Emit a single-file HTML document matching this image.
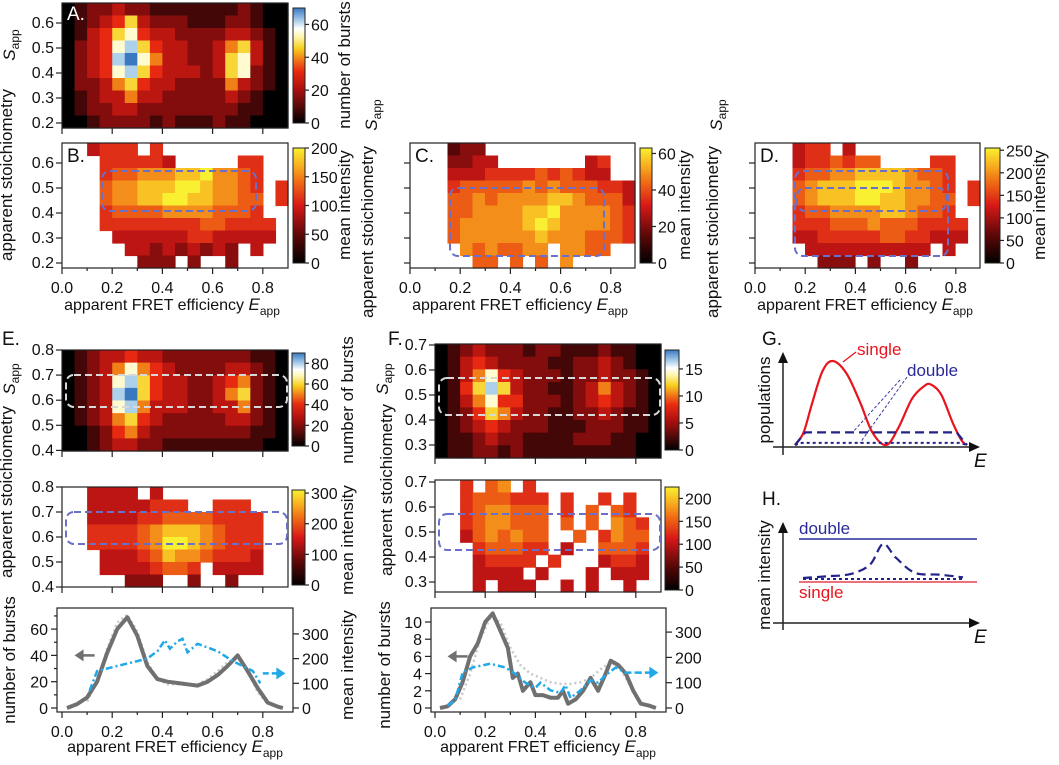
<!DOCTYPE html>
<html><head><meta charset="utf-8"><style>
html,body{margin:0;padding:0;background:#fff;}
svg{display:block;font-family:"Liberation Sans",Arial,sans-serif;}
text{fill:#111;}
</style></head><body>
<svg id="fig" width="1059" height="765" viewBox="0 0 1059 765" xmlns="http://www.w3.org/2000/svg">
<defs>
<linearGradient id="gCount" x1="0" y1="1" x2="0" y2="0">
<stop offset="0" stop-color="#000"/><stop offset="0.15" stop-color="#5a0a0a"/><stop offset="0.3" stop-color="#b01010"/><stop offset="0.45" stop-color="#e82a10"/><stop offset="0.55" stop-color="#f07a18"/><stop offset="0.65" stop-color="#f8d020"/><stop offset="0.75" stop-color="#fff6b0"/><stop offset="0.82" stop-color="#fff"/><stop offset="0.9" stop-color="#a0c8e8"/><stop offset="1" stop-color="#3a78c0"/>
</linearGradient>
<linearGradient id="gInt" x1="0" y1="1" x2="0" y2="0">
<stop offset="0" stop-color="#000"/><stop offset="0.25" stop-color="#600808"/><stop offset="0.5" stop-color="#d81818"/><stop offset="0.7" stop-color="#f06a14"/><stop offset="0.85" stop-color="#f8b020"/><stop offset="1" stop-color="#f8f030"/>
</linearGradient>
</defs>
<g id="layer"></g>
</svg>
<script>
// ---- heatmap data (digit 0-9 = level, '.' = empty) ----
const heatA = ["012232211111112100","012346322211122100","013467433222233210","023478643322356310","023489753322367310","023478643332367210","022356433222253210","012335332222232100","012233222222221100","001222212111211000"];
const heatB = ["..4555.5..........","...555554.....55..","...5667778897765..","...6778889987765.5","...6778899887766.5","...5666677776665..","...55555555665555.","....4444445544444.",".....443434343.4..","......333.3..3...."];
const heatC = ["...233............","...3344.......45..","...4445555656544..","...566666767666554","...667677778876664","...667777889777765","...677777898777765","...677777787776665","....7676677.7766..",".....66.6.6.7....."];
const heatD = ["...455.4..........","...4556566....55..","...5667788887665..","...6788899987765.5","...6788899887766.5","...5667777887665..","...55566676665555.","...44555556655444.","....4444444444.4..",".....333.3..3....."];
const heatEtop = ["012334332222222110","012357543222233210","012378643322345210","012389643322356210","012378533322335210","012356432222233210","001245322222222110","001233221111111100"];
const heatEmid = ["..4444.4..........","..44444555..555...","..44445566665555..","..55556788876555..","..55556799876555..","...4445687765554..","...44445665.4444...",".....333..3..3...."];
const heatFtop = ["012322212211121100","013432222112232100","013574322212232210","014686322112353210","013574422212343210","012465322112232110","012343222111222110","011232211112221100","011221211111111100"];
const heatFmid = ["..5.67.5..........","..5666555.5..5.5..","..5677666.5.6.65..","..5677666.6.6.765.","..4676766..6.5766.","...566655.4..6665.","...45555.5...4554.","...4444.4...4.444.","...4.444..4.4..4.."];
// ---- line chart data ----
const eGrayX = [0.02,0.06,0.1,0.14,0.18,0.22,0.26,0.30,0.34,0.38,0.42,0.46,0.50,0.54,0.58,0.62,0.66,0.70,0.74,0.78,0.82,0.86,0.88];
const eGrayY = [0,3,8,20,42,60,69,55,32,22,20,19,18,17,20,25,32,40,28,15,4,1,0];
const eFitX = [0.1,0.14,0.18,0.22,0.26,0.30,0.34,0.38,0.42,0.46,0.5,0.54,0.58,0.62,0.66,0.7,0.74,0.78,0.82];
const eFitY = [5,20,45,65,71,58,35,22,18,18,18,18,22,28,35,38,28,12,3];
const eBlueX = [0.11,0.14,0.22,0.3,0.34,0.38,0.41,0.43,0.46,0.48,0.5,0.54,0.62,0.68,0.72,0.76,0.79];
const eBlueY = [70,150,170,190,200,230,275,240,270,280,225,260,230,190,170,150,100];
const fGrayX = [0.02,0.05,0.08,0.11,0.14,0.17,0.2,0.23,0.26,0.29,0.31,0.33,0.35,0.38,0.4,0.43,0.46,0.49,0.51,0.53,0.56,0.59,0.62,0.65,0.68,0.7,0.73,0.76,0.79,0.82,0.85,0.88];
const fGrayY = [0,0.2,1,3,6,7.5,10,11,9,7,3.5,4,2,3,1.5,1.5,1.2,1.2,2,0.5,1,2,3.5,2,4,5.5,5,4,2,0.5,0.3,0];
const fFitX = [0.1,0.14,0.18,0.22,0.26,0.3,0.34,0.38,0.42,0.46,0.5,0.54,0.58,0.62,0.66,0.7,0.74,0.78,0.82];
const fFitY = [1,4,8,10.5,10,7,5,4,3.5,3,2.8,2.8,3,3.5,4.5,5.3,4.5,2.5,0.6];
const fBlueX = [0.05,0.08,0.11,0.15,0.22,0.28,0.32,0.36,0.4,0.42,0.46,0.5,0.52,0.54,0.58,0.62,0.65,0.68,0.72,0.76,0.8];
const fBlueY = [10,30,140,160,175,160,135,100,80,100,70,60,90,40,70,110,100,130,160,140,140];
// ---- schematic G data ----
const gX = [0,0.05,0.1,0.16,0.22,0.3,0.38,0.45,0.53,0.6,0.68,0.75,0.79,0.85,0.92,0.97,1];
const gSingle = [0,0.15,0.5,0.88,1,0.85,0.5,0.15,0,0.2,0.55,0.7,0.72,0.6,0.25,0.05,0];
const hX = [0,0.15,0.3,0.42,0.5,0.58,0.7,0.85,1];
const hDouble = [0,0.05,0.12,0.4,1,0.6,0.15,0.1,0.02];

const NS="http://www.w3.org/2000/svg";
const layer=document.getElementById('layer');
function el(tag,attrs,parent){const e=document.createElementNS(NS,tag);for(const k in attrs)e.setAttribute(k,attrs[k]);(parent||layer).appendChild(e);return e;}
function hex(h){return [parseInt(h.substr(1,2),16),parseInt(h.substr(3,2),16),parseInt(h.substr(5,2),16)];}
const CCOUNT=[[0,"#000000"],[0.15,"#5a0a0a"],[0.3,"#b01010"],[0.45,"#e82a10"],[0.55,"#f07a18"],[0.65,"#f8d020"],[0.75,"#fff6b0"],[0.82,"#ffffff"],[0.9,"#a0c8e8"],[1,"#3a78c0"]];
const CINT=[[0,"#000000"],[0.25,"#600808"],[0.5,"#d81818"],[0.7,"#f06a14"],[0.85,"#f8b020"],[1,"#f8f030"]];
function cmap(st,t){for(let i=1;i<st.length;i++){if(t<=st[i][0]){const a=hex(st[i-1][1]),b=hex(st[i][1]);const f=(t-st[i-1][0])/(st[i][0]-st[i-1][0]);return 'rgb('+a.map((v,j)=>Math.round(v+(b[j]-v)*f)).join(',')+')';}}return st[st.length-1][1];}

function heatmap(name,rows,x0,x1,y0,y1,st){
  const g=el('g',{});
  
  
  const nc=rows[0].length,nr=rows.length,cw=(x1-x0)/nc,rh=(y1-y0)/nr;
  rows.forEach((row,r)=>{for(let c=0;c<nc;c++){const ch=row[c];if(ch==='.'||ch===undefined)continue;
    const rc=el('rect',{x:x0+c*cw,y:y0+r*rh,width:cw+0.6,height:rh+0.6,fill:cmap(st,(+ch)/9)},g);
    
    }});
}
function box(name,x0,y0,x1,y1){const r=el('rect',{x:x0,y:y0,width:x1-x0,height:y1-y0,fill:'none',stroke:'#222','stroke-width':1.2});
  
  }
function txt(s,x,y,opt){const t=el('text',Object.assign({x:x,y:y,'font-size':15},opt||{}));t.textContent=s;
  
  return t;}
function line(x1,y1,x2,y2,o){return el('line',Object.assign({x1,y1,x2,y2,stroke:'#222','stroke-width':1.2},o||{}));}
function xTicks(x0,y,labels){[0,0.2,0.4,0.6,0.8].forEach(v=>{const x=x0+v*251;line(x,y,x,y+6);if(labels)txt(v.toFixed(1),x,y+25,{'text-anchor':'middle','font-size':16,dn:'x-tick-label'});});
  if(labels){[0.1,0.3,0.5,0.7].forEach(v=>{const x=x0+v*251;line(x,y,x,y+3);});}}
function yTicks(x,yTop,sTop,per,vals,labels){vals.forEach(v=>{const y=yTop+(sTop-v)*per;line(x-6,y,x,y);if(labels)txt(v.toFixed(1),x-8,y+5,{'text-anchor':'end','font-size':16,dn:'y-tick-label'});});}
function colorbar(name,x0,y0,x1,y1,grad,max,ticks){const r=el('rect',{x:x0,y:y0,width:x1-x0,height:y1-y0,fill:'url(#'+grad+')',stroke:'#222','stroke-width':1});
  
  
  ticks.forEach(v=>{const y=y1-(v/max)*(y1-y0);line(x1,y,x1+4,y);txt(String(v),x1+6,y+6,{'font-size':16,dn:'colorbar-tick'});});}
function rtext(s,x,y,size,name){const t=el('text',{x:0,y:0,'font-size':size||16,'text-anchor':'middle',transform:'translate('+x+','+y+') rotate(-90)'});t.textContent=s;
  
  return t;}
function sapp(x,y,name){const t=el('text',{x:0,y:0,'font-size':17,'text-anchor':'middle',transform:'translate('+x+','+y+') rotate(-90)'});
  
  
  const a=el('tspan',{'font-style':'italic'},t);a.textContent='S';const b=el('tspan',{'font-size':12,dy:4},t);b.textContent='app';}
function xtitle(cx,y){const t=el('text',{x:cx,y:y,'font-size':16,'text-anchor':'middle'});
  
  
  const a=el('tspan',{},t);a.textContent='apparent FRET efficiency  ';const b=el('tspan',{'font-style':'italic','font-size':17},t);b.textContent='E';const c=el('tspan',{'font-size':12,dy:5},t);c.textContent='app';}
function drect(name,x0,y0,x1,y1,col){const r=el('rect',{x:x0,y:y0,width:x1-x0,height:y1-y0,rx:8,fill:'none',stroke:col,'stroke-width':2,'stroke-dasharray':'7,4'});
  
  }
function path(name,xs,ys,fx,fy,o){const d=xs.map((v,i)=>(i?'L':'M')+fx(v).toFixed(1)+','+fy(ys[i]).toFixed(1)).join('');
  const p=el('path',Object.assign({d:d,fill:'none'},o));
  
  return p;}
function smooth(name,xs,ys,fx,fy,o){const P=xs.map((v,i)=>[fx(v),fy(ys[i])]);let d='M'+P[0][0]+','+P[0][1];
  for(let i=0;i<P.length-1;i++){const p0=P[Math.max(0,i-1)],p1=P[i],p2=P[i+1],p3=P[Math.min(P.length-1,i+2)];
    d+='C'+(p1[0]+(p2[0]-p0[0])/6)+','+(p1[1]+(p2[1]-p0[1])/6)+' '+(p2[0]-(p3[0]-p1[0])/6)+','+(p2[1]-(p3[1]-p1[1])/6)+' '+p2[0]+','+p2[1];}
  const p=el('path',Object.assign({d:d,fill:'none'},o));
  
  return p;}

// ===== Panel A =====
heatmap('heatmap-a',heatA,62,288,3,128,CCOUNT);
box('plot-a',62,3,288,128);
yTicks(62,3,0.68,250,[0.2,0.3,0.4,0.5,0.6],true);
xTicks(62,128,false);
colorbar('colorbar-a',293,8,305,123,'gCount',70,[0,20,40,60]);
rtext('number of bursts',350,65,17,'colorbar-a-title');
txt('A.',67,20,{'font-size':19,fill:'#fff',style:'fill:#fff',dn:'panel-label-a'});
sapp(15,45,'s-app-label-ab');
rtext('apparent stoichiometry',12,175,17,'y-axis-title-ab');
// ===== Panel B =====
heatmap('heatmap-b',heatB,62,288,143,268,CINT);
box('plot-b',62,143,288,268);
yTicks(62,143,0.68,250,[0.2,0.3,0.4,0.5,0.6],true);
xTicks(62,268,true);
colorbar('colorbar-b',293,148,305,263,'gInt',200,[0,50,100,150,200]);
rtext('mean intensity',350,205,17,'colorbar-b-title');
drect('selection-b',102,171,256,211,'#6a70c8');
txt('B.',67,162,{'font-size':19,dn:'panel-label-b'});
xtitle(172,310);
// ===== Panel C =====
heatmap('heatmap-c',heatC,410,635,143,268,CINT);
box('plot-c',410,143,635,268);
yTicks(410,143,0.68,250,[0.2,0.3,0.4,0.5,0.6],false);
xTicks(410,268,true);
colorbar('colorbar-c',640,148,652,263,'gInt',63,[0,20,40,60]);
rtext('mean intensity',690,205,17,'colorbar-c-title');
drect('selection-c',450,188,604,256,'#6a70c8');
txt('C.',415,162,{'font-size':19,dn:'panel-label-c'});
sapp(377,115,'s-app-label-c');
rtext('apparent stoichiometry',373,232,17,'y-axis-title-c');
xtitle(520,310);
// ===== Panel D =====
heatmap('heatmap-d',heatD,755,980,143,268,CINT);
box('plot-d',755,143,980,268);
yTicks(755,143,0.68,250,[0.2,0.3,0.4,0.5,0.6],false);
xTicks(755,268,true);
colorbar('colorbar-d',985,148,1000,263,'gInt',255,[0,50,100,150,200,250]);
rtext('mean intensity',1045,205,17,'colorbar-d-title');
drect('selection-d-outer',795,171,948,256,'#6a70c8');
drect('selection-d-inner',797,188,946,211,'#6a70c8');
txt('D.',760,162,{'font-size':19,dn:'panel-label-d'});
sapp(722,115,'s-app-label-d');
rtext('apparent stoichiometry',718,232,17,'y-axis-title-d');
xtitle(865,310);
// ===== Panel E =====
heatmap('heatmap-e-count',heatEtop,62,288,350,451,CCOUNT);
box('plot-e-count',62,350,288,451);
yTicks(62,350,0.8,251,[0.4,0.5,0.6,0.7,0.8],true);
xTicks(62,451,false);
colorbar('colorbar-e-count',292,353,305,446,'gCount',90,[0,20,40,60,80]);
rtext('number of bursts',353,400,17,'colorbar-e-count-title');
drect('selection-e-count',66,375,287,407,'#d8d8d8');
heatmap('heatmap-e-intensity',heatEmid,62,288,487,587,CINT);
box('plot-e-intensity',62,487,288,587);
yTicks(62,487,0.8,250,[0.4,0.5,0.6,0.7,0.8],true);
xTicks(62,587,false);
colorbar('colorbar-e-intensity',292,490,305,585,'gInt',310,[0,100,200,300]);
rtext('mean intensity',353,540,17,'colorbar-e-intensity-title');
drect('selection-e-intensity',66,512,287,544,'#6a70c8');
txt('E.',2,345,{'font-size':19,dn:'panel-label-e'});
sapp(15,379,'s-app-label-e');
rtext('apparent stoichiometry',12,492,17,'y-axis-title-e');
// E line chart
(function(){const x0=62,base=708;const fx=v=>x0+v*251,fyL=v=>base-v*1.315,fyR=v=>base-v*0.247;
 box('plot-e-profile',57,608,293,712);
 [0,20,40,60].forEach(v=>{line(57,fyL(v),51,fyL(v));txt(String(v),48,fyL(v)+6,{'text-anchor':'end','font-size':16,dn:'y-left-tick'});});
 [10,30,50,70].forEach(v=>line(57,fyL(v),54,fyL(v)));
 [0,100,200,300].forEach(v=>{line(293,fyR(v),299,fyR(v));txt(String(v),302,fyR(v)+6,{'font-size':16,dn:'y-right-tick'});});
 xTicks(62,712,true);
 path('e-fit-dotted',eFitX,eFitY,fx,fyL,{stroke:'#c8c8c8','stroke-width':2.5,'stroke-dasharray':'2,3'});
 path('e-bursts-line',eGrayX,eGrayY,fx,fyL,{stroke:'#707070','stroke-width':4,'stroke-linejoin':'round'});
 path('e-intensity-line',eBlueX,eBlueY,fx,fyR,{stroke:'#20a8e8','stroke-width':2.5,'stroke-dasharray':'7,3,2,3'});
 line(fx(0.8),fyR(140),fx(0.87),fyR(140),{stroke:'#20a8e8','stroke-width':2.5,'stroke-dasharray':'6,3'});
 el('path',{d:'M'+(fx(0.89))+','+fyR(140)+'l-9,-6v12z',fill:'#20a8e8'});
 line(fx(0.07),fyL(40),fx(0.13),fyL(40),{stroke:'#707070','stroke-width':2.5});
 el('path',{d:'M'+fx(0.05)+','+fyL(40)+'l9,-6v12z',fill:'#707070'});
 rtext('number of bursts',15,660,17,'y-left-title-e');
 rtext('mean intensity',353,665,17,'y-right-title-e');
 xtitle(175,752);})();
// ===== Panel F =====
heatmap('heatmap-f-count',heatFtop,435,661,344,458,CCOUNT);
box('plot-f-count',435,344,661,458);
yTicks(435,344,0.704,250,[0.3,0.4,0.5,0.6,0.7],true);
xTicks(435,458,false);
colorbar('colorbar-f-count',665,350,679,450,'gCount',18.5,[0,5,10,15]);
drect('selection-f-count',439,378,660,415,'#d8d8d8');
heatmap('heatmap-f-intensity',heatFmid,435,661,480,592,CINT);
box('plot-f-intensity',435,480,661,592);
yTicks(435,482,0.7,250,[0.3,0.4,0.5,0.6,0.7],true);
xTicks(435,592,false);
colorbar('colorbar-f-intensity',665,487,679,590,'gInt',225,[0,50,100,150,200]);
drect('selection-f-intensity',439,514,660,550,'#6a70c8');
txt('F.',388,345,{'font-size':19,dn:'panel-label-f'});
sapp(388,379,'s-app-label-f');
rtext('apparent stoichiometry',392,490,17,'y-axis-title-f');
(function(){const x0=435,base=708;const fx=v=>x0+v*251,fyL=v=>base-v*8.6,fyR=v=>base-v*0.253;
 box('plot-f-profile',431,608,666,712);
 [0,2,4,6,8,10].forEach(v=>{line(431,fyL(v),425,fyL(v));txt(String(v),422,fyL(v)+6,{'text-anchor':'end','font-size':16,dn:'y-left-tick'});});
 [0,100,200,300].forEach(v=>{line(666,fyR(v),672,fyR(v));txt(String(v),675,fyR(v)+6,{'font-size':16,dn:'y-right-tick'});});
 xTicks(435,712,true);
 path('f-fit-dotted',fFitX,fFitY,fx,fyL,{stroke:'#c8c8c8','stroke-width':2.5,'stroke-dasharray':'2,3'});
 path('f-bursts-line',fGrayX,fGrayY,fx,fyL,{stroke:'#707070','stroke-width':4,'stroke-linejoin':'round'});
 path('f-intensity-line',fBlueX,fBlueY,fx,fyR,{stroke:'#20a8e8','stroke-width':2.5,'stroke-dasharray':'7,3,2,3'});
 line(fx(0.8),fyR(140),fx(0.87),fyR(140),{stroke:'#20a8e8','stroke-width':2.5,'stroke-dasharray':'6,3'});
 el('path',{d:'M'+(fx(0.89))+','+fyR(140)+'l-9,-6v12z',fill:'#20a8e8'});
 line(fx(0.07),fyL(6),fx(0.13),fyL(6),{stroke:'#707070','stroke-width':2.5});
 el('path',{d:'M'+fx(0.05)+','+fyL(6)+'l9,-6v12z',fill:'#707070'});
 rtext('number of bursts',390,665,17,'y-left-title-f');
 xtitle(548,752);})();
// ===== Panel G =====
(function(){const gx0=795,gx1=967,gb=445;const fx=v=>gx0+v*(gx1-gx0),fy=v=>gb-v*84;
 line(783,455,783,358,{'stroke-width':1.5});el('path',{d:'M783,352l-5,11h10z',fill:'#111'});
 line(773,447,973,447,{'stroke-width':1.5});el('path',{d:'M980,447l-11,-5v10z',fill:'#111'});
 smooth('g-single-curve',gX,gSingle,fx,fy,{stroke:'#e8141e','stroke-width':2.2});
 el('path',{d:'M'+fx(0)+','+fy(0)+'L'+fx(0.06)+','+fy(0.15)+'L'+fx(0.94)+','+fy(0.15)+'L'+fx(1)+','+fy(0),fill:'none',stroke:'#22228a','stroke-width':2.2,'stroke-dasharray':'9,5'});
 el('path',{d:'M'+fx(0)+','+fy(0)+'L'+fx(0.04)+','+fy(0.025)+'L'+fx(0.96)+','+fy(0.025)+'L'+fx(1)+','+fy(0),fill:'none',stroke:'#22228a','stroke-width':2,'stroke-dasharray':'3,3'});
 line(907,377,860,443,{stroke:'#3a3aa0','stroke-width':1,'stroke-dasharray':'3,2'});
 line(900,380,852,433,{stroke:'#3a3aa0','stroke-width':1,'stroke-dasharray':'3,2'});
 line(843,362,856,352,{stroke:'#e8141e','stroke-width':1.3});
 txt('single',857,355,{'font-size':17,fill:'#e8141e',style:'fill:#e8141e',dn:'g-single-label'});
 txt('double',907,376,{'font-size':17,fill:'#2a2a9a',style:'fill:#2a2a9a',dn:'g-double-label'});
 txt('E',974,467,{'font-size':19,'font-style':'italic',dn:'g-x-label'});
 rtext('populations',770,400,17,'g-y-title');
 txt('G.',762,345,{'font-size':19,dn:'panel-label-g'});})();
// ===== Panel H =====
(function(){const hx0=803,hx1=963;const fx=v=>hx0+v*(hx1-hx0),fy=v=>578-v*34;
 line(783,630,783,528,{'stroke-width':1.5});el('path',{d:'M783,522l-5,11h10z',fill:'#111'});
 line(773,623,973,623,{'stroke-width':1.5});el('path',{d:'M980,623l-11,-5v10z',fill:'#111'});
 line(799,539,977,539,{stroke:'#2a2a9a','stroke-width':1.5});
 line(799,582,977,582,{stroke:'#e84050','stroke-width':1.5});
 smooth('h-double-curve',hX,hDouble,fx,fy,{stroke:'#22228a','stroke-width':2.2,'stroke-dasharray':'9,5'});
 line(803,579,963,579,{stroke:'#22228a','stroke-width':2,'stroke-dasharray':'3,3'});
 txt('double',799,534,{'font-size':17,fill:'#2a2a9a',style:'fill:#2a2a9a',dn:'h-double-label'});
 txt('single',799,598,{'font-size':17,fill:'#e8141e',style:'fill:#e8141e',dn:'h-single-label'});
 txt('E',974,643,{'font-size':19,'font-style':'italic',dn:'h-x-label'});
 rtext('mean intensity',770,575,17,'h-y-title');
 txt('H.',762,505,{'font-size':19,dn:'panel-label-h'});})();
</script>
</body></html>
